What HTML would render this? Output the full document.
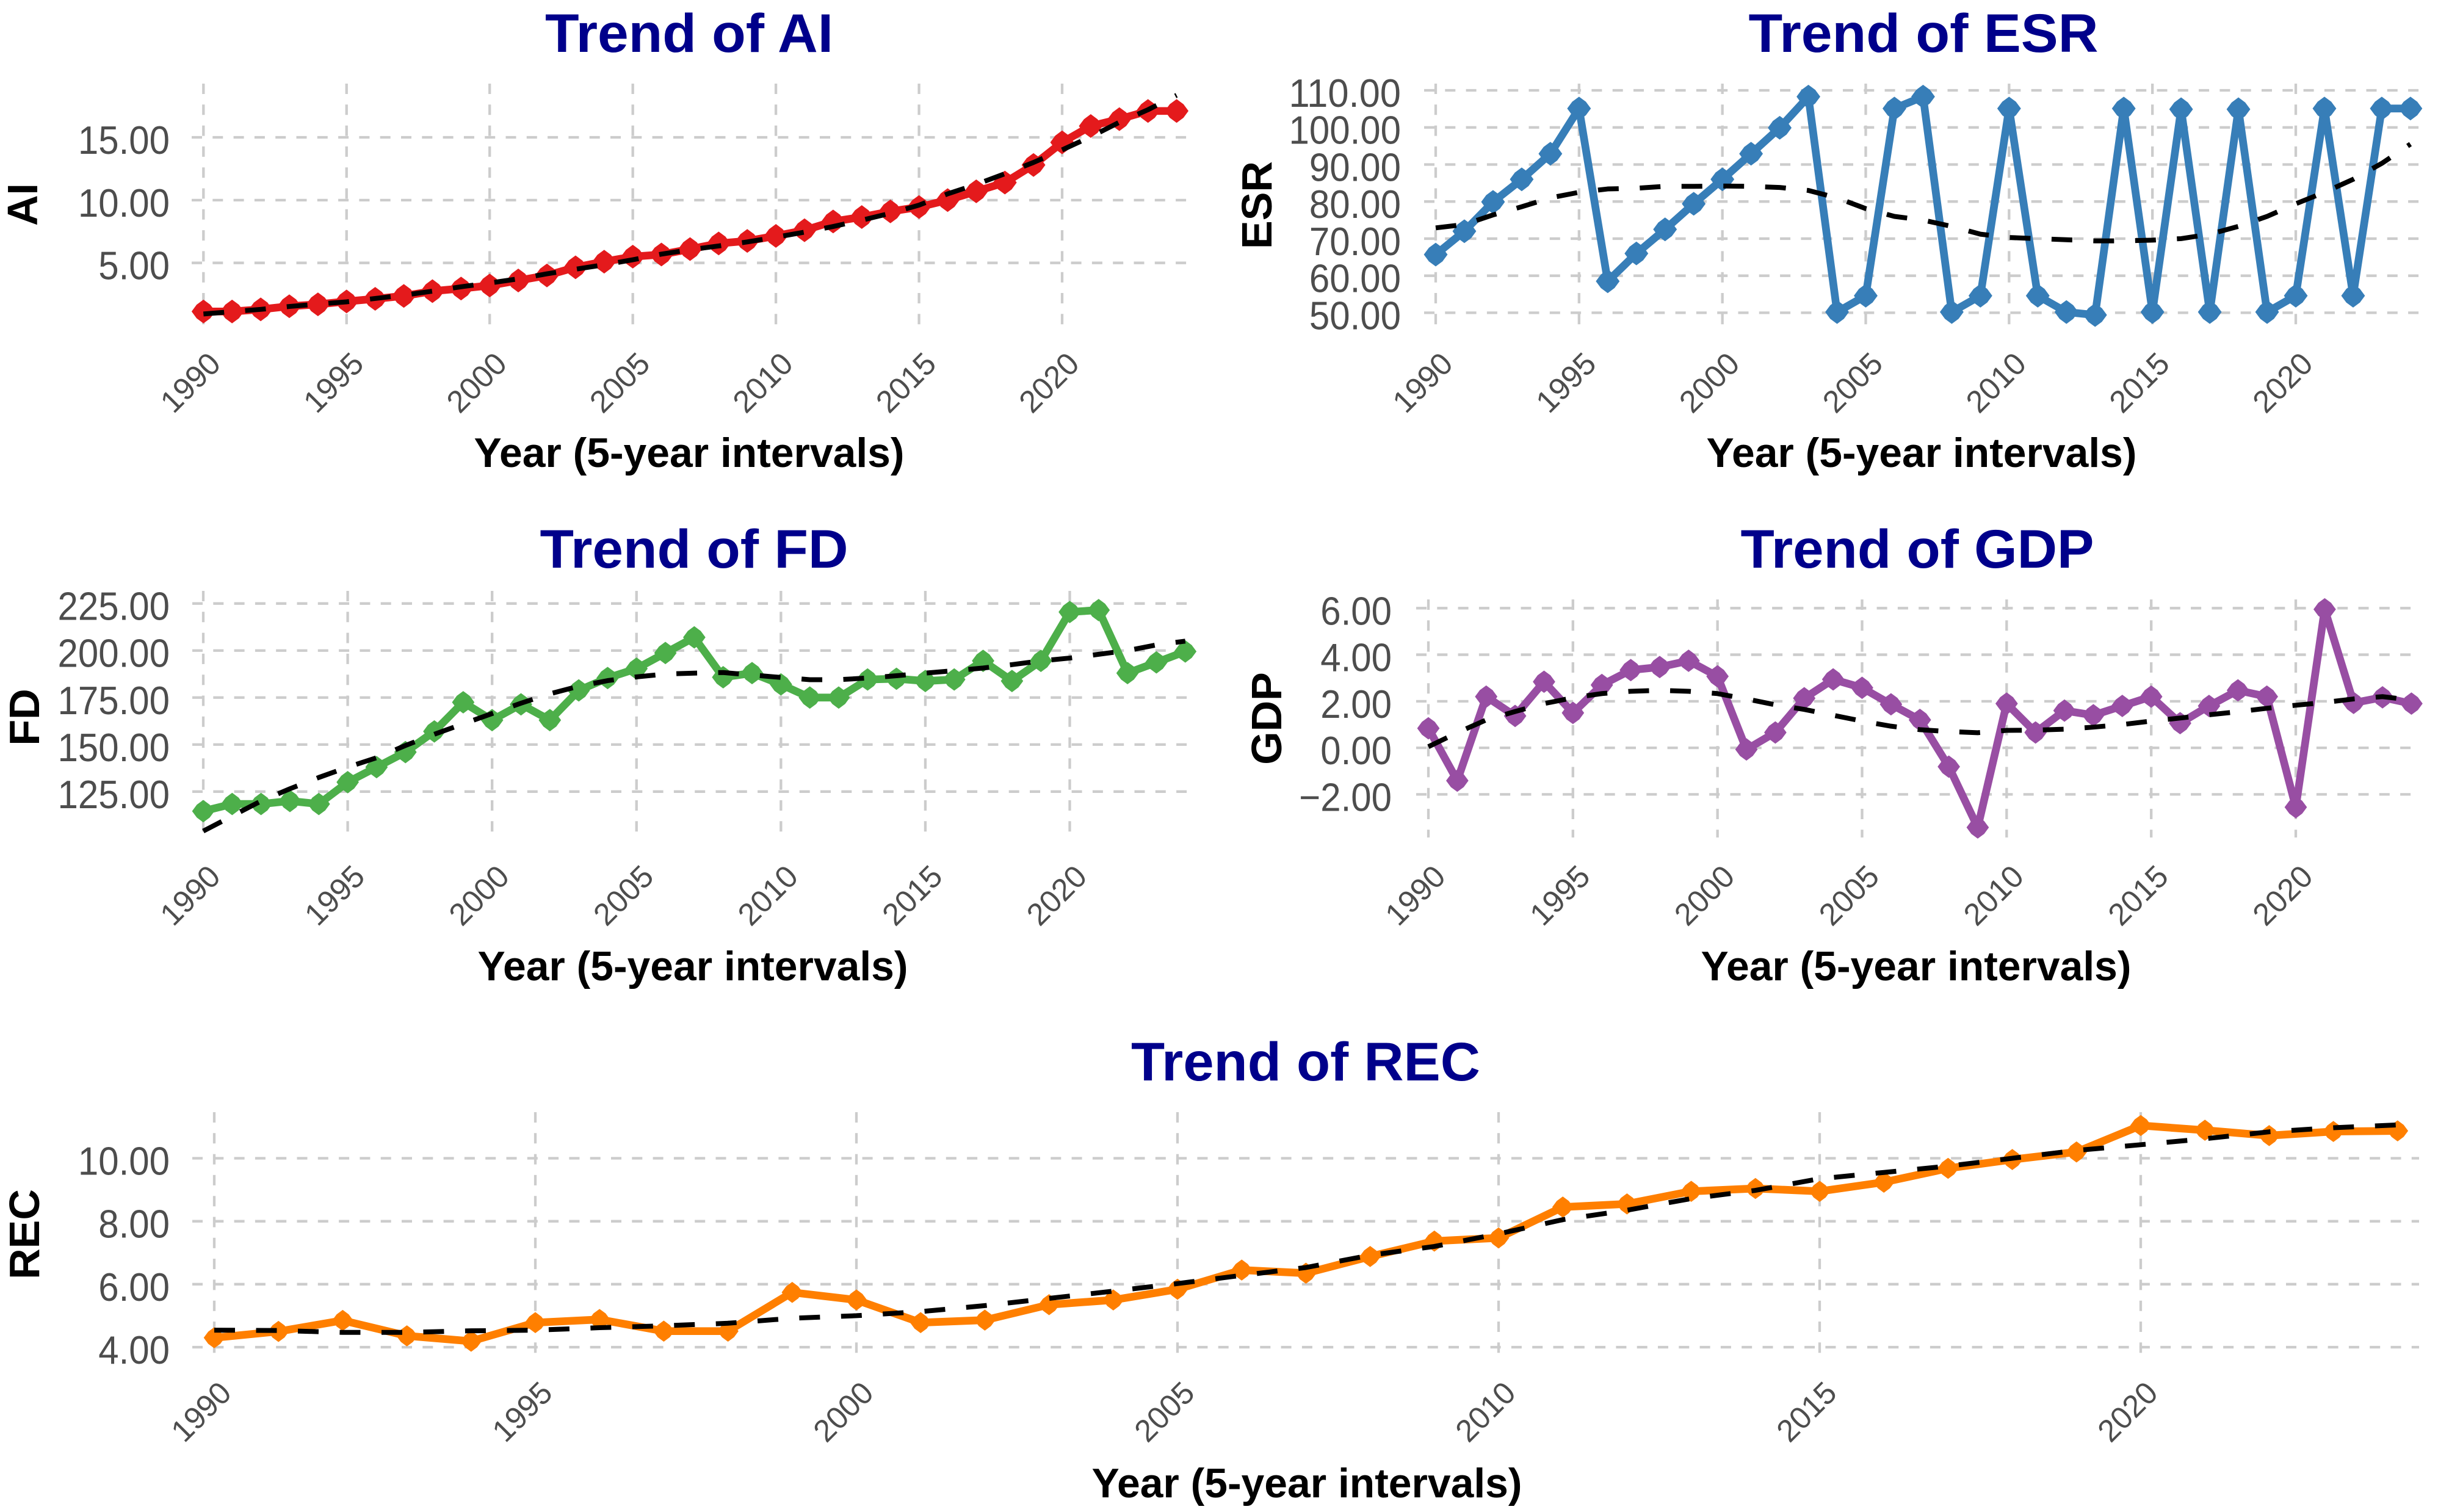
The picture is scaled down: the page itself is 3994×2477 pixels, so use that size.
<!DOCTYPE html>
<html lang="en">
<head>
<meta charset="utf-8">
<title>Trends of AI, ESR, FD, GDP and REC</title>
<style>
html,body{margin:0;padding:0;background:#fff;}
svg{display:block;}
text{font-family:"Liberation Sans",Arial,sans-serif;}
.title{font-size:89px;font-weight:700;fill:#00008b;text-anchor:middle;}
.xtitle{font-size:68px;font-weight:700;fill:#000;text-anchor:middle;}
.ytitle{font-size:70px;font-weight:700;fill:#000;text-anchor:middle;}
.ytick{font-size:65px;fill:#4d4d4d;text-anchor:end;}
.xtick{font-size:51px;fill:#4d4d4d;text-anchor:end;}
</style>
</head>
<body>
<svg id="figure" xmlns="http://www.w3.org/2000/svg" width="3994" height="2477" viewBox="0 0 3994 2477">
  <rect width="3994" height="2477" fill="#ffffff"/>

  <g id="panel-ai">
    <text class="title" x="1129" y="85" textLength="472" lengthAdjust="spacingAndGlyphs">Trend of AI</text>
    <text class="xtitle" x="1129" y="765" textLength="705" lengthAdjust="spacingAndGlyphs">Year (5-year intervals)</text>
    <text class="ytitle" transform="translate(61 335) rotate(-90)">AI</text>
  </g>

  <g id="panel-esr">
    <text class="title" x="3151" y="85" textLength="573" lengthAdjust="spacingAndGlyphs">Trend of ESR</text>
    <text class="xtitle" x="3148" y="765" textLength="705" lengthAdjust="spacingAndGlyphs">Year (5-year intervals)</text>
    <text class="ytitle" transform="translate(2083 336) rotate(-90)">ESR</text>
  </g>

  <g id="panel-fd">
    <text class="title" x="1137" y="930" textLength="505" lengthAdjust="spacingAndGlyphs">Trend of FD</text>
    <text class="xtitle" x="1135" y="1606" textLength="705" lengthAdjust="spacingAndGlyphs">Year (5-year intervals)</text>
    <text class="ytitle" transform="translate(64 1175) rotate(-90)">FD</text>
  </g>

  <g id="panel-gdp">
    <text class="title" x="3141" y="930" textLength="579" lengthAdjust="spacingAndGlyphs">Trend of GDP</text>
    <text class="xtitle" x="3139" y="1606" textLength="705" lengthAdjust="spacingAndGlyphs">Year (5-year intervals)</text>
    <text class="ytitle" transform="translate(2099 1177) rotate(-90)">GDP</text>
  </g>

  <g id="panel-rec">
    <text class="title" x="2139" y="1770" textLength="572" lengthAdjust="spacingAndGlyphs">Trend of REC</text>
    <text class="xtitle" x="2141" y="2453" textLength="705" lengthAdjust="spacingAndGlyphs">Year (5-year intervals)</text>
    <text class="ytitle" transform="translate(64 2022) rotate(-90)">REC</text>
  </g>
</svg>

<script>
// ---- chart data ----
const years = [1990,1991,1992,1993,1994,1995,1996,1997,1998,1999,2000,2001,2002,2003,2004,2005,2006,2007,2008,2009,2010,2011,2012,2013,2014,2015,2016,2017,2018,2019,2020,2021,2022,2023,2024];
const yearTickLabels = ["1990","1995","2000","2005","2010","2015","2020"];

const aiValues = [1.13,1.13,1.3,1.55,1.7,1.93,2.14,2.37,2.75,2.96,3.2,3.6,4.0,4.65,5.1,5.5,5.67,6.1,6.55,6.75,7.15,7.6,8.3,8.65,9.1,9.45,10,10.7,11.4,12.8,14.6,15.9,16.45,17.1,17.1];
const aiTrend = [0.93,1.12,1.3,1.53,1.72,1.9,2.17,2.43,2.75,3.1,3.4,3.73,4.13,4.5,4.85,5.25,5.7,6.05,6.35,6.67,7.05,7.45,7.9,8.4,8.95,9.6,10.5,11.25,12.1,13,14,15.05,16.2,17.2,18.35];
const aiTickLabels = ["5.00","10.00","15.00"];

const esrValues = [65.7,72,79.9,86,92.9,105.1,58.5,66,72.5,79.4,86,92.9,99.9,108.3,50.2,54.6,105.1,108.3,50.2,54.6,105.1,54.6,50.2,49.4,105.1,50.2,104.9,50.2,104.9,50.2,54.6,105.1,54.6,105.1,105.1];
const esrTrend = [72.9,73.8,76.4,78.6,81,82.5,83.4,83.6,84.1,84.1,84.2,84.1,83.8,83,81,78.1,76,75,73.3,71.2,70.3,70,69.7,69.4,69.4,69.6,70,71.2,73.3,76,79.4,82.5,86,90.3,95.5];
const esrTickLabels = ["50.00","60.00","70.00","80.00","90.00","100.00","110.00"];

const fdValues = [114.6,118.4,118.4,120,118.4,130,138,146,157,172.5,163,171.4,163,178.8,185.4,190.4,198.7,207,185.8,188,182,175,175,184.6,185,183.8,184.6,194.5,183.8,194.5,220.5,221.5,188,193.7,199.5];
const fdTrend = [104,112,120,126.5,132.5,138,143,149.5,155.5,161,166.5,172,177,181,184,186,187.5,188,188.3,187,185.7,184.5,184.5,185.4,186.6,188,189.3,190.7,192.5,194.5,196,198,200,203,205];
const fdTickLabels = ["125.00","150.00","175.00","200.00","225.00"];

const gdpValues = [0.84,-1.41,2.2,1.37,2.84,1.5,2.7,3.34,3.47,3.74,3.07,-0.07,0.66,2.13,2.94,2.58,1.87,1.2,-0.81,-3.42,1.9,0.66,1.6,1.4,1.8,2.2,1.06,1.8,2.47,2.2,-2.55,5.95,1.93,2.17,1.9];
const gdpTrend = [0.05,0.65,1.2,1.56,1.9,2.15,2.33,2.43,2.47,2.43,2.33,2.1,1.85,1.65,1.4,1.15,0.93,0.78,0.7,0.65,0.75,0.76,0.8,0.89,1.0,1.15,1.28,1.42,1.55,1.7,1.83,1.95,2.1,2.2,2.05];
const gdpTickLabels = ["\u22122.00","0.00","2.00","4.00","6.00"];

const recValues = [4.3,4.5,4.85,4.36,4.19,4.78,4.88,4.51,4.51,5.74,5.5,4.78,4.86,5.35,5.5,5.84,6.45,6.35,6.88,7.37,7.47,8.45,8.55,8.95,9.04,8.95,9.24,9.68,9.96,10.2,11.04,10.89,10.72,10.85,10.87];
const recTrend = [4.54,4.53,4.47,4.47,4.52,4.54,4.62,4.68,4.76,4.92,5.0,5.13,5.32,5.55,5.78,6.02,6.28,6.53,6.92,7.2,7.6,8.05,8.35,8.72,8.98,9.35,9.55,9.75,10,10.25,10.43,10.62,10.84,10.97,11.06];
const recTickLabels = ["4.00","6.00","8.00","10.00"];

// ---- drawing ----
const NS = 'http://www.w3.org/2000/svg';

function shape(parent, tag, attrs) {
  const el = document.createElementNS(NS, tag);
  for (const k in attrs) el.setAttribute(k, attrs[k]);
  parent.appendChild(el);
  return el;
}
function linearScale(v0, p0, v1, p1) {
  return function (v) { return p0 + (v - v0) * (p1 - p0) / (v1 - v0); };
}
function tickValue(label) {
  return parseFloat(label.replace('\u2212', '-'));
}
function tickWidth(label) {
  let em = 0;
  for (const c of label) em += c === '.' ? 0.278 : c === '\u2212' ? 0.584 : 0.556;
  return em * 60;
}
// marker outline: a blocky, slightly diamond-like disc around a data point
function markerPoints(cx, cy, r) {
  const a = r * 1.08, b = r * 0.62;
  return [[a,0],[b,b],[0,a],[-b,b],[-a,0],[-b,-b],[0,-a],[b,-b]]
    .map(function (o) { return (cx + o[0]) + ',' + (cy + o[1]); }).join(' ');
}

function drawPanel(p) {
  const g = document.getElementById(p.id);
  const x = linearScale(1990, p.x1990, 2020, p.x2020);
  const y = linearScale(p.refLow, p.yLow, p.refHigh, p.yHigh);

  // vertical grid + year labels
  yearTickLabels.forEach(function (label) {
    const px = x(Number(label));
    const line = shape(g, 'line', {x1: px, x2: px, y1: p.top, y2: p.bottom, stroke: '#cccccc', 'stroke-width': 4.3, 'stroke-dasharray': '17 17.3'});
    
    
    const t = shape(g, 'text', {class: 'xtick', transform: 'translate(' + (px + 31) + ' ' + (p.xLabelY - 3) + ') rotate(-45)'});
    t.textContent = label;
    
    
  });

  // horizontal grid + value labels
  p.ticks.forEach(function (label) {
    const py = y(tickValue(label));
    const line = shape(g, 'line', {x1: p.left, x2: p.right, y1: py, y2: py, stroke: '#cccccc', 'stroke-width': 4.3, 'stroke-dasharray': '17 17.3'});
    
    
    const t = shape(g, 'text', {class: 'ytick', x: p.yLabelX, y: py + 27, textLength: tickWidth(label), lengthAdjust: 'spacingAndGlyphs'});
    t.textContent = label;
    
    
  });

  // series line
  const linePts = years.map(function (yr, i) { return x(yr) + ',' + y(p.values[i]); }).join(' ');
  const series = shape(g, 'polyline', {points: linePts, fill: 'none', stroke: p.color, 'stroke-width': 12.7, 'stroke-linejoin': 'round', 'stroke-linecap': 'round'});
  
  

  // series points
  years.forEach(function (yr, i) {
    const dot = shape(g, 'polygon', {points: markerPoints(x(yr), y(p.values[i]), p.markerRadius), fill: p.color});
    
    
  });

  // dashed trend line
  const trendPts = years.map(function (yr, i) { return x(yr) + ',' + y(p.trend[i]); }).join(' ');
  const trend = shape(g, 'polyline', {points: trendPts, fill: 'none', stroke: '#000000', 'stroke-width': 8, 'stroke-dasharray': '34 34.5', 'stroke-linejoin': 'round'});
  
  
}

drawPanel({id: 'panel-ai', values: aiValues, trend: aiTrend, ticks: aiTickLabels, color: '#e41a1c', markerRadius: 18,
  x1990: 333.3, x2020: 1740, refLow: 5, yLow: 430.7, refHigh: 15, yHigh: 225,
  left: 314, right: 1945, top: 137, bottom: 532, yLabelX: 278, xLabelY: 602});
drawPanel({id: 'panel-esr', values: esrValues, trend: esrTrend, ticks: esrTickLabels, color: '#377eb8', markerRadius: 18,
  x1990: 2352, x2020: 3761, refLow: 50, yLow: 512.4, refHigh: 110, yHigh: 148,
  left: 2333, right: 3963, top: 137, bottom: 532, yLabelX: 2295, xLabelY: 602});
drawPanel({id: 'panel-fd', values: fdValues, trend: fdTrend, ticks: fdTickLabels, color: '#4daf4a', markerRadius: 17,
  x1990: 333, x2020: 1752.5, refLow: 125, yLow: 1296.8, refHigh: 225, yHigh: 988.7,
  left: 315, right: 1945, top: 968, bottom: 1372, yLabelX: 278, xLabelY: 1442});
drawPanel({id: 'panel-gdp', values: gdpValues, trend: gdpTrend, ticks: gdpTickLabels, color: '#984ea3', markerRadius: 17,
  x1990: 2340, x2020: 3761, refLow: -2, yLow: 1301.4, refHigh: 6, yHigh: 996.3,
  left: 2320, right: 3953, top: 982, bottom: 1372, yLabelX: 2280, xLabelY: 1442});
drawPanel({id: 'panel-rec', values: recValues, trend: recTrend, ticks: recTickLabels, color: '#ff7f00', markerRadius: 16,
  x1990: 351, x2020: 3507, refLow: 4, yLow: 2207, refHigh: 10, yHigh: 1897.5,
  left: 315, right: 3963, top: 1822, bottom: 2218, yLabelX: 278, xLabelY: 2288});
</script>
</body>
</html>
